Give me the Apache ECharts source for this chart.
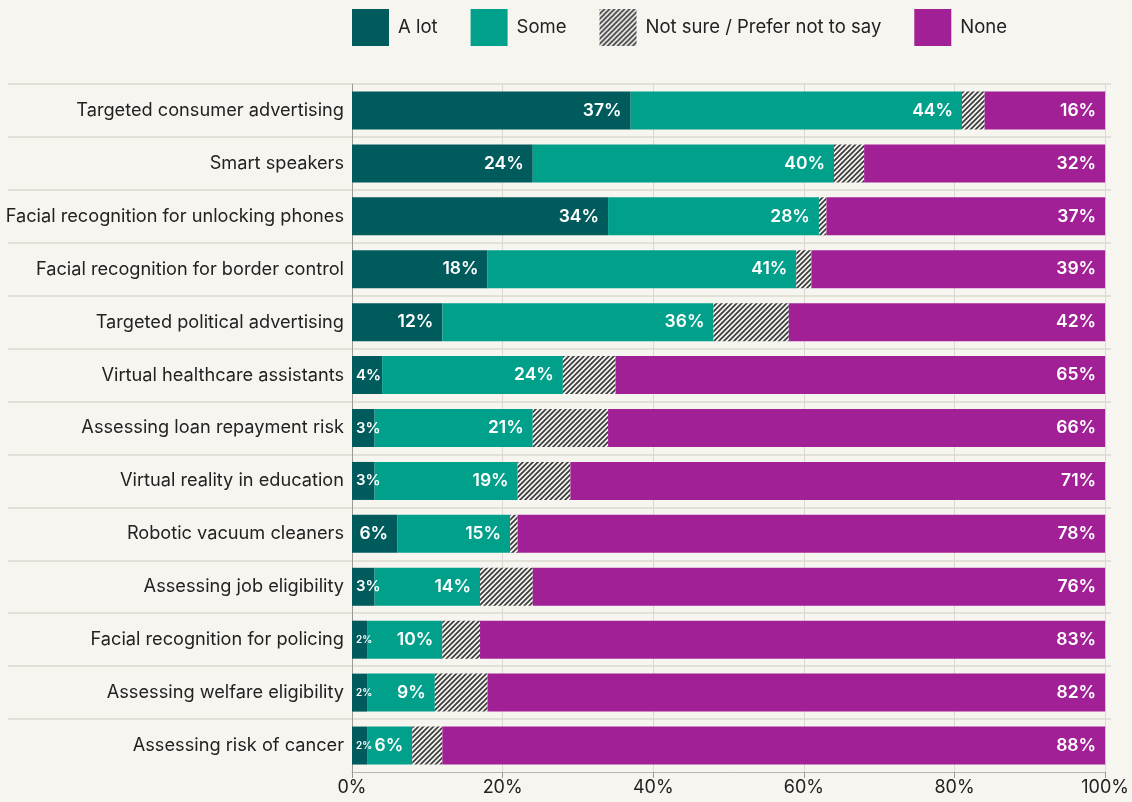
<!DOCTYPE html>
<html>
<head>
<meta charset="utf-8">
<script src="https://cdn.jsdelivr.net/npm/echarts@6/dist/echarts.min.js"></script>
<style>
  html, body { margin: 0; padding: 0; background: #f7f5f0; }
  #chart { width: 1132px; height: 802px; }
</style>
</head>
<body>
<div id="chart"></div>
<script>
// Awareness of AI uses, share of respondents per answer
const categories = [
  'Targeted consumer advertising',
  'Smart speakers',
  'Facial recognition for unlocking phones',
  'Facial recognition for border control',
  'Targeted political advertising',
  'Virtual healthcare assistants',
  'Assessing loan repayment risk',
  'Virtual reality in education',
  'Robotic vacuum cleaners',
  'Assessing job eligibility',
  'Facial recognition for policing',
  'Assessing welfare eligibility',
  'Assessing risk of cancer'
];
const aLot    = [37, 24, 34, 18, 12, 4, 3, 3, 6, 3, 2, 2, 2];
const some    = [44, 40, 28, 41, 36, 24, 21, 19, 15, 14, 10, 9, 6];
const notSure = [3, 4, 1, 2, 10, 7, 10, 7, 1, 7, 5, 7, 4];
const none    = [16, 32, 37, 39, 42, 65, 66, 71, 78, 76, 83, 82, 88];
const seriesNames = ['A lot', 'Some', 'Not sure / Prefer not to say', 'None'];
const xTicks = [0, 20, 40, 60, 80, 100];

// diagonal hatch tile for the "not sure" answers
function hatchTile() {
  const s = 5;
  const c = document.createElement('canvas');
  c.width = s; c.height = s;
  const g = c.getContext('2d');
  g.fillStyle = '#f4f3f1';
  g.fillRect(0, 0, s, s);
  g.strokeStyle = '#3c3c3c';
  g.lineWidth = 1.7;
  g.beginPath();
  g.moveTo(-1, s + 1); g.lineTo(s + 1, -1);
  g.moveTo(-1, 1); g.lineTo(1, -1);
  g.moveTo(s - 1, s + 1); g.lineTo(s + 1, s - 1);
  g.stroke();
  return c;
}

// narrow segments get a smaller label anchored to their left edge
function labelFor(v) {
  if (v <= 2) return { position: 'insideLeft', distance: 4, fontSize: 10 };
  if (v < 5) return { position: 'insideLeft', distance: 4, fontSize: 15 };
  return {};
}

const chart = echarts.init(document.getElementById('chart'));
const FONT = 'Inter';
const gridTop = 84, gridBottom = 30, gridRight = 21, chartH = 802;
const plotH = chartH - gridTop - gridBottom;

const baseLabel = {
  show: true,
  position: 'insideRight',
  distance: 9,
  color: '#ffffff',
  fontFamily: FONT,
  fontSize: 17.5,
  fontWeight: 600,
  formatter: '{c}%'
};

function barSeries(name, values, color, withLabel) {
  return {
    name: name,
    type: 'bar',
    stack: 'total',
    xAxisIndex: 0,
    yAxisIndex: 0,
    barWidth: 38,
    itemStyle: { color: color },
    label: withLabel ? baseLabel : { show: false },
    emphasis: { disabled: true },
    data: values.map(v => withLabel ? { value: v, label: labelFor(v) } : v)
  };
}

chart.setOption({
  backgroundColor: '#f7f5f0',
  animation: false,
  textStyle: { fontFamily: FONT },
  legend: {
    data: seriesNames,
    left: 352,
    top: 9,
    padding: 0,
    itemWidth: 37,
    itemHeight: 37,
    itemGap: 33,
    icon: 'rect',
    textStyle: { fontFamily: FONT, fontSize: 18.5, color: '#222', padding: [2, 0, 0, 4] },
    selectedMode: false
  },
  grid: [
    { left: 352, right: gridRight, top: gridTop, bottom: gridBottom, containLabel: false },
    // full-width band separators running under the category labels
    { left: 8, right: gridRight, top: gridTop, height: plotH * (categories.length - 1) / categories.length }
  ],
  xAxis: [
    {
      gridIndex: 0,
      type: 'value',
      min: xTicks[0],
      max: xTicks[xTicks.length - 1],
      interval: xTicks[1] - xTicks[0],
      axisLine: { show: true, lineStyle: { color: '#b9b5ae', width: 1 } },
      axisTick: { show: true, length: 6, lineStyle: { color: '#9d9a95' } },
      axisLabel: { formatter: '{value}%', color: '#222', fontSize: 18, fontFamily: FONT, margin: 7 },
      splitLine: { show: true, lineStyle: { color: '#dcd8d1', width: 1 } }
    },
    { gridIndex: 1, type: 'value', min: 0, max: 1, show: false }
  ],
  yAxis: [
    {
      gridIndex: 0,
      type: 'category',
      data: categories,
      inverse: true,
      axisLine: { show: true, lineStyle: { color: '#9d9a95', width: 1 } },
      axisTick: { show: false },
      axisLabel: { color: '#222', fontSize: 18.2, fontFamily: FONT, margin: 8 },
      splitLine: { show: false }
    },
    {
      gridIndex: 1,
      type: 'category',
      data: categories.slice(0, -1),
      inverse: true,
      axisLine: { show: false },
      axisTick: { show: false },
      axisLabel: { show: false },
      splitLine: { show: true, lineStyle: { color: '#dcd8d1', width: 1.5 } }
    }
  ],
  series: [
    barSeries(seriesNames[0], aLot, '#005c5c', true),
    barSeries(seriesNames[1], some, '#00a08b', true),
    barSeries(seriesNames[2], notSure, { image: hatchTile(), repeat: 'repeat' }, false),
    barSeries(seriesNames[3], none, '#a22096', true)
  ]
});
</script>
</body>
</html>
